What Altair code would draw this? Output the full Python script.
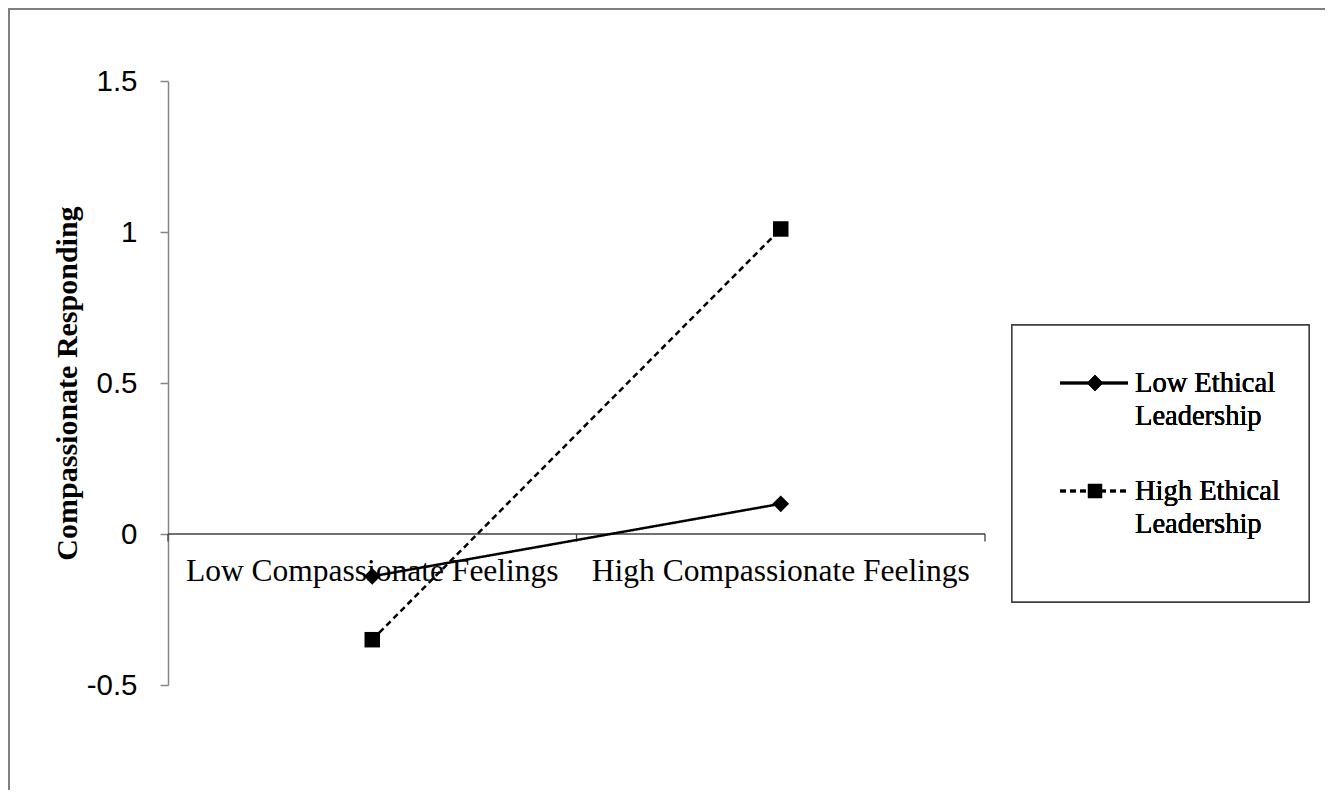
import altair as alt
import pandas as pd

categories = ["Low Compassionate Feelings", "High Compassionate Feelings"]
series_names = ["Low Ethical Leadership", "High Ethical Leadership"]
low_ethical = [-0.14, 0.10]
high_ethical = [-0.35, 1.01]
y_ticks = [-0.5, 0, 0.5, 1, 1.5]

rows = []
for s, vals in zip(series_names, [low_ethical, high_ethical]):
    for i, (c, v) in enumerate(zip(categories, vals)):
        rows.append({"series": s, "category": c, "pos": i + 0.5, "value": v})
df = pd.DataFrame(rows)
cat_df = pd.DataFrame({"category": categories, "pos": [i + 0.5 for i in range(len(categories))]})
tick_df = pd.DataFrame({"b": [float(i) for i in range(len(categories) + 1)]})

W, H = 817, 604
SERIF = "Liberation Serif"
SANS = "Liberation Sans"

xs = alt.Scale(domain=[0, len(categories)], nice=False, zero=False)
ys = alt.Scale(domain=[-0.5, 1.5], nice=False, zero=False)

base = alt.Chart(df)

yaxis_layer = alt.Chart(df).mark_point(opacity=0).encode(
    x=alt.X("pos:Q", scale=xs, axis=None),
    y=alt.Y("value:Q", scale=ys, axis=alt.Axis(
        values=y_ticks, title="Compassionate Responding", grid=False,
        labelExpr="toString(datum.value)",
        domainColor="#868686", domainWidth=1.5, tickColor="#868686", tickWidth=1.5,
        tickSize=8, labelFont=SANS, labelFontSize=29.5, labelColor="black",
        labelPadding=23, titleFont=SERIF, titleFontSize=30, titleFontWeight="bold",
        titleColor="black", titleX=-86, titleY=H / 2, labelFlush=False)),
)

xline = alt.Chart(pd.DataFrame({"a": [0.0], "b": [float(len(categories))]})).mark_rule(
    color="#404040", strokeWidth=1.3).encode(
    x=alt.X("a:Q", scale=xs), x2="b:Q", y=alt.datum(0, scale=ys))

xticks = alt.Chart(tick_df).mark_rule(color="#404040", strokeWidth=1.3).encode(
    x=alt.X("b:Q", scale=xs), y=alt.datum(0), y2=alt.datum(-0.025))

cat_labels = alt.Chart(cat_df).mark_text(
    font=SERIF, fontSize=31.5, color="black", baseline="alphabetic", dy=47).encode(
    x=alt.X("pos:Q", scale=xs), y=alt.datum(0), text="category:N")

dash_scale = alt.Scale(domain=series_names, range=[[1, 0], [6, 4]])
shape_scale = alt.Scale(domain=series_names, range=["diamond", "square"])
size_scale = alt.Scale(domain=series_names, range=[280, 240])

lines = base.mark_line(color="black", strokeWidth=2.5).encode(
    x=alt.X("pos:Q", scale=xs), y=alt.Y("value:Q", scale=ys),
    strokeDash=alt.StrokeDash("series:N", scale=dash_scale, legend=None),
    detail="series:N")

points = base.mark_point(filled=True, color="black", opacity=1).encode(
    x=alt.X("pos:Q", scale=xs), y=alt.Y("value:Q", scale=ys),
    shape=alt.Shape("series:N", scale=shape_scale, legend=None),
    size=alt.Size("series:N", scale=size_scale, legend=None))

frame_left = alt.Chart(df).mark_rule(color="#808080", strokeWidth=2).encode(
    x=alt.value(-159), y=alt.value(-73), y2=alt.value(H + 110))
frame_top = alt.Chart(df).mark_rule(color="#808080", strokeWidth=2).encode(
    x=alt.value(-160), x2=alt.value(W + 340), y=alt.value(-72))

legend_box = alt.Chart(df).mark_rect(fill="white", stroke="#404040", strokeWidth=1.3).encode(
    x=alt.value(844), x2=alt.value(1141), y=alt.value(244), y2=alt.value(521))

legend_layers = [legend_box]
leg_y = [302, 410]
dashes = [[1, 0], [6, 4]]
shapes = ["diamond", "square"]
sizes = [250, 200]
for name, ly, d, shp, sz in zip(series_names, leg_y, dashes, shapes, sizes):
    legend_layers.append(alt.Chart(df).mark_rule(color="black", strokeWidth=2.5, strokeDash=d).encode(
        x=alt.value(892), x2=alt.value(960), y=alt.value(ly)))
    legend_layers.append(alt.Chart(df).mark_point(filled=True, color="black", opacity=1,
                                                  shape=shp, size=sz).encode(
        x=alt.value(927), y=alt.value(ly)))
    parts = name.split(" ")
    lines_txt = [" ".join(parts[:-1]), parts[-1]]
    legend_layers.append(alt.Chart(df).mark_text(
        text=lines_txt, font=SERIF, fontSize=28.5, color="black", align="left",
        baseline="alphabetic", lineHeight=33).encode(
        x=alt.value(967), y=alt.value(ly + 9)))

chart = alt.layer(
    frame_left, frame_top, yaxis_layer, xline, xticks, cat_labels, lines, points,
    *legend_layers
).properties(
    width=W, height=H,
    padding={"left": 160, "top": 73, "right": 340, "bottom": 105},
    autosize=alt.AutoSizeParams(type="none"),
    background="white",
).configure_view(stroke=None)

chart.save("out.html", embed_options={"renderer": "svg", "actions": False})
